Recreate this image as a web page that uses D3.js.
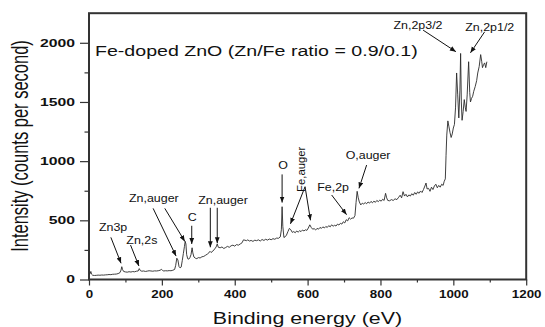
<!DOCTYPE html>
<html>
<head>
<meta charset="utf-8">
<script src="https://cdn.jsdelivr.net/npm/d3@7"></script>
<style>
  html, body { margin: 0; padding: 0; background: #fff; }
  svg { display: block; font-family: Arial, "Liberation Sans", sans-serif; }
</style>
</head>
<body>
<svg id="xps"></svg>
<script>
// XPS survey spectrum
const energy = [
  0, 3, 5, 7, 10, 15, 20, 25, 30, 35,
  40, 45, 50, 55, 60, 65, 70, 75, 80, 85,
  88, 90, 92, 95, 100, 105, 110, 115, 120, 125,
  130, 135, 138, 141, 145, 150, 155, 160, 165, 170,
  175, 180, 185, 190, 195, 199, 202, 205, 210, 215,
  220, 225, 230, 235, 238, 241, 244, 247, 250, 253,
  256, 259, 262, 264, 266, 268, 271, 274, 277, 280,
  283, 285, 288, 292, 296, 300, 305, 310, 315, 320,
  325, 329, 332, 335, 340, 345, 349, 352, 355, 360,
  365, 370, 375, 380, 385, 390, 395, 400, 405, 410,
  415, 420, 424, 428, 432, 436, 440, 445, 450, 455,
  460, 465, 470, 475, 480, 485, 490, 495, 500, 505,
  510, 515, 520, 525, 528, 530, 532, 535, 538, 542,
  546, 550, 554, 558, 562, 566, 570, 574, 578, 582,
  586, 590, 594, 598, 602, 606, 610, 614, 618, 622,
  626, 630, 634, 638, 642, 646, 650, 654, 658, 662,
  666, 670, 674, 678, 682, 686, 690, 694, 698, 702,
  706, 710, 714, 718, 722, 726, 730, 733, 736, 739,
  742, 746, 750, 754, 758, 762, 766, 770, 774, 778,
  782, 786, 790, 794, 798, 802, 806, 810, 814, 817,
  820, 825, 830, 835, 840, 845, 850, 854, 858, 862,
  866, 870, 874, 878, 882, 886, 890, 894, 898, 902,
  906, 910, 914, 918, 922, 925, 928, 932, 936, 940,
  944, 948, 952, 956, 960, 964, 968, 972, 975, 978,
  980, 982, 985, 988, 991, 994, 997, 1000, 1003, 1006,
  1009, 1012, 1015, 1018, 1020, 1022, 1024, 1027, 1030, 1033,
  1035, 1038, 1042, 1045, 1047, 1050, 1053, 1056, 1060, 1064,
  1067, 1071, 1075, 1078, 1080, 1083, 1086, 1089, 1092
];
const counts = [
  42, 48, 68, 45, 36, 34, 35, 37, 36, 38,
  37, 39, 40, 42, 41, 44, 45, 46, 50, 58,
  80, 108, 85, 68, 64, 62, 66, 63, 67, 65,
  70, 72, 92, 75, 70, 72, 68, 71, 74, 72,
  70, 73, 72, 74, 78, 86, 76, 72, 74, 73,
  75, 74, 78, 85, 120, 180, 165, 110, 98, 105,
  160, 220, 280, 322, 300, 210, 175, 172, 185, 210,
  268, 225, 190, 180, 176, 185, 182, 192, 195, 205,
  215, 225, 238, 228, 240, 258, 275, 300, 272, 268,
  275, 262, 270, 280, 272, 285, 290, 282, 295, 290,
  300, 310, 335, 332, 328, 335, 325, 330, 322, 332,
  328, 335, 325, 338, 330, 340, 333, 342, 336, 345,
  340, 350, 348, 360, 420, 615, 450, 355, 360, 375,
  405, 432, 420, 398, 405, 395, 410, 400, 412, 405,
  418, 410, 420, 415, 435, 462, 440, 425, 430, 418,
  432, 425, 440, 432, 445, 435, 448, 440, 455, 445,
  462, 450, 458, 452, 468, 460, 475, 468, 488, 478,
  505, 495, 522, 510, 520, 518, 540, 650, 745, 690,
  655, 630, 645, 638, 650, 640, 655, 645, 660, 648,
  662, 652, 668, 658, 670, 662, 678, 668, 728, 690,
  668, 665, 675, 668, 682, 675, 695, 712, 690, 742,
  705, 720, 698, 715, 705, 725, 712, 735, 720, 740,
  728, 748, 735, 760, 790, 815, 765, 770, 745, 780,
  760, 790, 805, 775, 795, 780, 805, 795, 830, 850,
  1050, 1220, 1340, 1290, 1240, 1200, 1230, 1280, 1310, 1450,
  1745, 1560, 1365, 1600, 1910, 1500, 1345, 1420, 1520, 1450,
  1420, 1560, 1840, 1580, 1500, 1530, 1548, 1590, 1630, 1680,
  1745, 1800, 1900, 1840, 1790, 1815, 1830, 1790, 1840
];

const xTicks = [0, 200, 400, 600, 800, 1000, 1200];
const yTicks = [0, 500, 1000, 1500, 2000];

// peak labels: text centre and arrow ends, in (eV, counts)
const annotations = [
  { text: "Zn3p", at: [66, 446], arrows: [[[60, 356], [88, 137]]] },
  { text: "Zn,2s", at: [145, 334], arrows: [[[114, 291], [137, 114]]] },
  { text: "Zn,auger", at: [178, 691], arrows: [[[176, 601], [239, 198]], [[208, 601], [263, 322]]] },
  { text: "C", at: [283, 525], arrows: [[[282, 454], [282, 300]]] },
  { text: "Zn,auger", at: [368, 671], arrows: [[[333, 606], [333, 272]], [[352, 606], [352, 306]]] },
  { text: "O", at: [533, 967], arrows: [[[530, 888], [530, 650]]] },
  { text: "Fe,auger", at: [592, 931], rotate: true, arrows: [[[593, 784], [553, 470]], [[593, 784], [608, 500]]] },
  { text: "Fe,2p", at: [670, 784], arrows: [[[666, 714], [707, 548]]] },
  { text: "O,auger", at: [766, 1052], arrows: [[[762, 967], [741, 770]]] },
  { text: "Zn,2p3/2", at: [903, 2150], arrows: [[[917, 2107], [1007, 1925]]] },
  { text: "Zn,2p1/2", at: [1100, 2135], arrows: [[[1086, 2093], [1047, 1915]]] }
];

const W = 545, H = 327;
const margin = { top: 13.2, right: 18.8, bottom: 47.5, left: 89 },
  width = W - margin.left - margin.right,
  height = H - margin.top - margin.bottom;

const svg = d3.select("#xps").attr("width", W).attr("height", H);

svg.append("defs").append("marker")
  .attr("id", "head")
  .attr("viewBox", "0 0 10 10")
  .attr("refX", 10).attr("refY", 5)
  .attr("markerWidth", 6).attr("markerHeight", 6)
  .attr("markerUnits", "userSpaceOnUse")
  .attr("orient", "auto")
  .append("path").attr("d", "M0,1 L10,5 L0,9 Z").attr("fill", "#111");

const chart = svg.append("g")
  .attr("transform", `translate(${margin.left},${margin.top})`);

const x = d3.scaleLinear().domain([0, 1200]).range([0, width]);
const y = d3.scaleLinear().domain([0, 2250]).range([height, 0]);

// text that looks a bit wider than the font (picture was stretched sideways)
function wideText(parent, px, py, str, size, sx, rot) {
  return parent.append("text")
    .attr("transform", `translate(${px},${py}) scale(${sx},1)` + (rot ? " rotate(-90)" : ""))
    .style("font-size", size + "px")
    .text(str);
}

// minor ticks
chart.append("g")
  .attr("transform", `translate(0,${height})`)
  .call(d3.axisBottom(x).tickValues(d3.range(100, 1200, 200)).tickSize(3).tickFormat(""))
  .call(g => g.select(".domain").remove());
chart.append("g")
  .call(d3.axisLeft(y).tickValues([250, 750, 1250, 1750]).tickSize(4.5).tickFormat(""))
  .call(g => g.select(".domain").remove());

// X axis
const xAxis = chart.append("g")
  .attr("transform", `translate(0,${height})`)
  .call(d3.axisBottom(x).tickValues(xTicks).tickSize(6).tickPadding(4.5).tickFormat(d3.format("d")));
xAxis.selectAll("text")
  .style("font-size", "11.6px").style("font-weight", "bold").attr("fill", "#111")
  .attr("transform", "scale(1.15,1)");

// Y axis
const yAxis = chart.append("g")
  .call(d3.axisLeft(y).tickValues(yTicks).tickSize(9).tickPadding(5).tickFormat(d3.format("d")));
yAxis.selectAll("text")
  .style("font-size", "10.7px").style("font-weight", "bold").attr("fill", "#111")
  .attr("x", -14 / 1.47)
  .attr("transform", "scale(1.47,1)");

chart.selectAll(".tick line").attr("stroke", "#333").attr("stroke-width", 1.2);
chart.selectAll(".domain").remove();

// frame
chart.append("rect")
  .attr("width", width).attr("height", height)
  .attr("fill", "none").attr("stroke", "#333").attr("stroke-width", 2);

// spectrum
const pts = energy.map((e, i) => [e, counts[i]]);
chart.append("path")
  .datum(pts)
  .attr("fill", "none")
  .attr("stroke", "#2a2a2a")
  .attr("stroke-width", 0.9)
  .attr("stroke-linejoin", "round")
  .attr("d", d3.line().x(d => x(d[0])).y(d => y(d[1])));

// peak labels
const ann = chart.append("g").attr("fill", "#111");
annotations.forEach(a => {
  a.arrows.forEach(ar => {
    ann.append("line")
      .attr("x1", x(ar[0][0])).attr("y1", y(ar[0][1]))
      .attr("x2", x(ar[1][0])).attr("y2", y(ar[1][1]))
      .attr("stroke", "#111").attr("stroke-width", 1)
      .attr("marker-end", "url(#head)");
  });
  wideText(ann, x(a.at[0]), y(a.at[1]), a.text, 11.3, a.rotate ? 1 : 1.1, a.rotate)
    .attr("text-anchor", "middle")
    .attr("dy", a.rotate ? "0" : "0.35em");
});

// title inside plot
wideText(svg, 95, 55.5, "Fe-doped ZnO (Zn/Fe ratio = 0.9/0.1)", 14, 1.4)
  .attr("fill", "#111");

// axis titles
wideText(svg, 307.5, 323.5, "Binding energy (eV)", 17, 1.26)
  .attr("text-anchor", "middle").attr("fill", "#111");
wideText(svg, 28.3, 146, "Intensity (counts per second)", 16.5, 1.41, true)
  .attr("text-anchor", "middle").attr("fill", "#111");
</script>
</body>
</html>
